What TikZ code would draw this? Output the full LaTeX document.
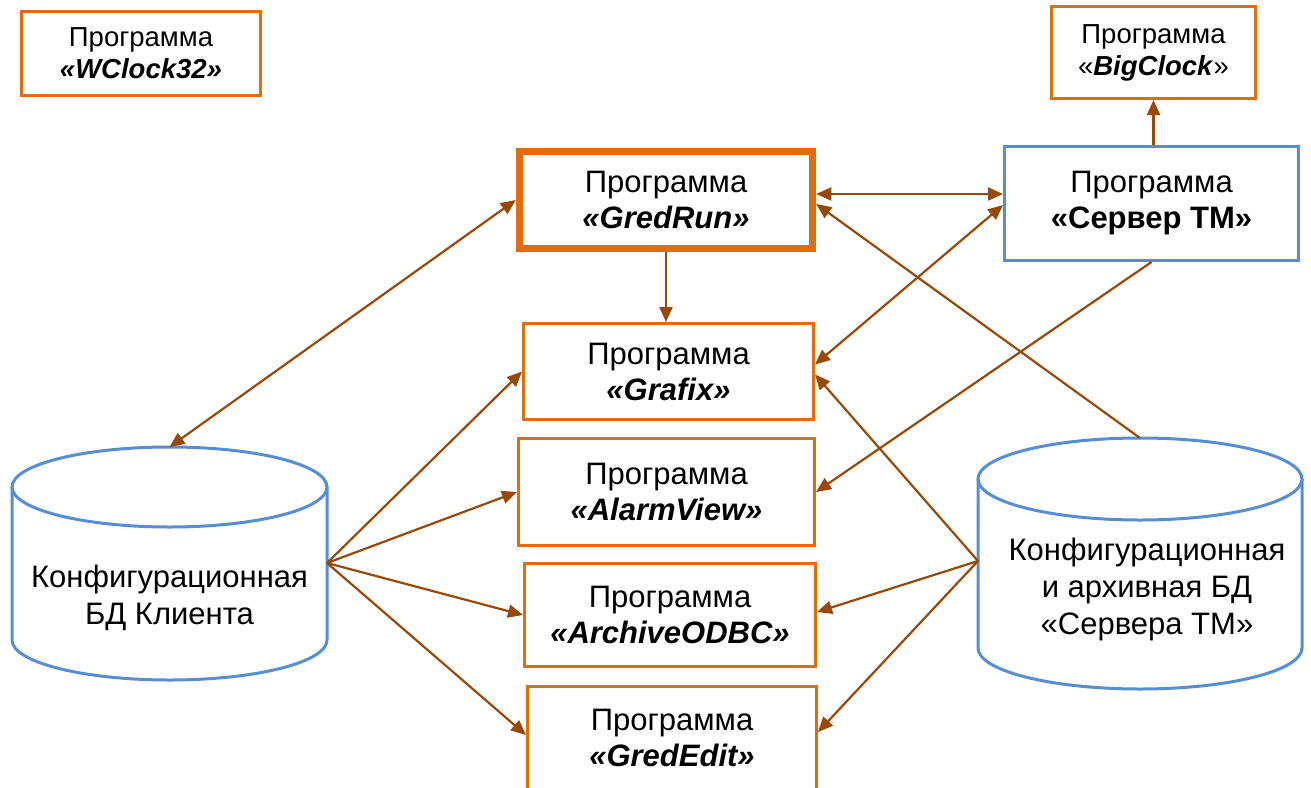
\documentclass[tikz,border=0pt]{standalone}
\usepackage{fontspec}
\setmainfont{Liberation Sans}
\usetikzlibrary{arrows.meta}
\definecolor{orng}{HTML}{E46C0A}
\definecolor{blu}{HTML}{558ED5}
\definecolor{brn}{HTML}{984807}
\begin{document}
\begin{tikzpicture}[x=1pt,y=-1pt,
  prog/.style={draw=orng, line width=3pt, fill=white, align=center, inner sep=0pt,
    font=\fontsize{31}{36}\selectfont},
  smallprog/.style={prog, font=\fontsize{27.5}{32}\selectfont},
  srv/.style={prog, draw=blu},
  dbtext/.style={align=center, inner sep=0pt, font=\fontsize{31}{37}\selectfont},
  dbline/.style={draw=blu, line width=3pt},
  conn/.style={draw=brn, line width=2.2pt, -{Triangle[length=15pt,width=13pt]}},
  bconn/.style={draw=brn, line width=2.2pt, {Triangle[length=15pt,width=13pt]}-{Triangle[length=15pt,width=13pt]}}
]
\useasboundingbox (0,0) rectangle (1311,787);
\clip (0,0) rectangle (1311,787);
\fill[white] (0,0) rectangle (1311,787);

% boxes
\node[smallprog, minimum width=239pt, minimum height=84pt] (wclock) at (141,53.5)
  {Программа\\\textbf{\textit{«WClock32»}}};
\node[smallprog, minimum width=204pt, minimum height=92pt] (bigclock) at (1153.5,52.5)
  {Программа\\«\textbf{\textit{BigClock}}»};
\node[prog, line width=7.5pt, minimum width=293pt, minimum height=97pt] (gredrun) at (666,200)
  {Программа\\\textbf{\textit{«GredRun»}}};
\node[srv, minimum width=294pt, minimum height=114pt] (server) at (1151.5,203.5)
  {Программа\\\textbf{«Сервер ТМ»}};
\node[prog, minimum width=290pt, minimum height=96pt] (grafix) at (668.5,371.5)
  {Программа\\\textbf{\textit{«Grafix»}}};
\node[prog, minimum width=296pt, minimum height=107pt] (alarm) at (666.5,492)
  {Программа\\\textbf{\textit{«AlarmView»}}};
\node[prog, minimum width=291pt, minimum height=103pt] (archive) at (670,615)
  {Программа\\\textbf{\textit{«ArchiveODBC»}}};
\node[prog, minimum width=289pt, minimum height=103pt] (grededit) at (672,738)
  {Программа\\\textbf{\textit{«GredEdit»}}};

% left database
\draw[dbline] (169.5,487) ellipse [x radius=157.5pt, y radius=40pt];
\draw[dbline] (12,487) -- (12,640) arc[start angle=180, end angle=360, x radius=157.5pt, y radius=40pt] -- (327,487);
\node[dbtext] (dbclient) at (169.5,598) {Конфигурационная\\БД Клиента};
\coordinate (dbclienttop) at (169.5,447);
\coordinate (dbclientport) at (327,563);

% right database
\draw[dbline] (1140,479) ellipse [x radius=162pt, y radius=41pt];
\draw[dbline] (978,479) -- (978,648) arc[start angle=180, end angle=360, x radius=162pt, y radius=41pt] -- (1302,479);
\node[dbtext] (dbserver) at (1147,589) {Конфигурационная\\и архивная БД\\«Сервера ТМ»};
\coordinate (dbservertop) at (1140,438);
\coordinate (dbserverport) at (978,561);

% connectors
\draw[bconn] (dbclienttop) -- (gredrun.west);
\draw[conn] (gredrun.south) -- (gredrun.south |- grafix.north);
\draw[bconn] ([yshift=6pt]gredrun.east) -- ([yshift=9.5pt]server.west);
\draw[bconn] ([yshift=7pt]grafix.east) -- ([yshift=-1.5pt]server.west);
\draw[conn] (dbservertop) -- ([yshift=-4pt]gredrun.east);
\draw[conn] (server.south) -- (alarm.east);
\draw[conn] (server.north -| bigclock.south) -- (bigclock.south);

\draw[conn] (dbclientport) -- (grafix.west);
\draw[conn] (dbclientport) -- (alarm.west);
\draw[conn] (dbclientport) -- (archive.west);
\draw[conn] (dbclientport) -- ([yshift=3pt]grededit.west);

\draw[conn] (dbserverport) -- ([yshift=-3pt]grafix.east);
\draw[conn] (dbserverport) -- ([yshift=3pt]archive.east);
\draw[conn] (dbserverport) -- ([yshift=6pt]grededit.east);
\end{tikzpicture}
\end{document}
